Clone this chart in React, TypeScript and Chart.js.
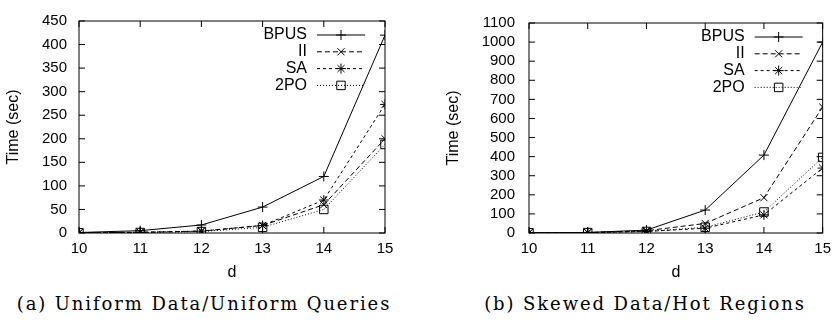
import React, { useEffect, useRef } from 'react';
import { Chart, registerables } from 'chart.js';

Chart.register(...registerables);

// ---- data ----
const dValues = [10, 11, 12, 13, 14, 15];
const seriesNames = ['BPUS', 'II', 'SA', '2PO'];

const uniformBPUS = [1, 5, 17, 55, 120, 420];
const uniformII = [0.5, 1.5, 4, 16, 60, 200];
const uniformSA = [0.5, 1.5, 4, 16, 70, 273];
const uniform2PO = [0.5, 1, 3, 12, 50, 188];

const skewedBPUS = [1, 3, 15, 120, 408, 1000];
const skewedII = [1, 2, 12, 50, 185, 660];
const skewedSA = [1, 2, 8, 25, 95, 340];
const skewed2PO = [1, 2, 8, 30, 110, 396];

const uniformYMax = 450;
const uniformYStep = 50;
const skewedYMax = 1100;
const skewedYStep = 100;

const captionA = '(a) Uniform Data/Uniform Queries';
const captionB = '(b) Skewed Data/Hot Regions';
const xTitle = 'd';
const yTitle = 'Time (sec)';

// ---- styles ----
const seriesStyles = [
  { pointStyle: 'cross', dash: [] as number[], radius: 5 },
  { pointStyle: 'crossRot', dash: [5, 3], radius: 5 },
  { pointStyle: 'star', dash: [3, 3], radius: 5 },
  { pointStyle: 'rect', dash: [1, 2], radius: 6 },
];

const SANS = "'Liberation Sans', Arimo, Arial, Helvetica, sans-serif";
Chart.defaults.font.family = SANS;
Chart.defaults.color = '#000';

function drawMarker(ctx: CanvasRenderingContext2D, style: string, r: number, x: number, y: number) {
  ctx.beginPath();
  if (style === 'cross') {
    ctx.moveTo(x - r, y); ctx.lineTo(x + r, y);
    ctx.moveTo(x, y - r); ctx.lineTo(x, y + r);
  } else if (style === 'crossRot') {
    const o = r * Math.SQRT1_2;
    ctx.moveTo(x - o, y - o); ctx.lineTo(x + o, y + o);
    ctx.moveTo(x - o, y + o); ctx.lineTo(x + o, y - o);
  } else if (style === 'star') {
    const o = r * Math.SQRT1_2;
    ctx.moveTo(x - r, y); ctx.lineTo(x + r, y);
    ctx.moveTo(x, y - r); ctx.lineTo(x, y + r);
    ctx.moveTo(x - o, y - o); ctx.lineTo(x + o, y + o);
    ctx.moveTo(x - o, y + o); ctx.lineTo(x + o, y - o);
  } else {
    const s = r * Math.SQRT1_2;
    ctx.rect(x - s, y - s, 2 * s, 2 * s);
  }
  ctx.stroke();
}

const gnuplotFrame = {
  id: 'gnuplotFrame',
  afterDatasetsDraw(chart: any) {
    const { ctx, chartArea, scales } = chart;
    const { left, right, top, bottom } = chartArea;
    ctx.save();
    ctx.strokeStyle = '#000';
    ctx.lineWidth = 1;
    ctx.setLineDash([]);
    ctx.strokeRect(left, top, right - left, bottom - top);
    const tl = 6;
    ctx.beginPath();
    scales.x.ticks.forEach((t: any) => {
      const px = scales.x.getPixelForValue(t.value);
      ctx.moveTo(px, bottom); ctx.lineTo(px, bottom - tl);
      ctx.moveTo(px, top); ctx.lineTo(px, top + tl);
    });
    scales.y.ticks.forEach((t: any) => {
      const py = scales.y.getPixelForValue(t.value);
      ctx.moveTo(left, py); ctx.lineTo(left + tl, py);
      ctx.moveTo(right, py); ctx.lineTo(right - tl, py);
    });
    ctx.stroke();

    // legend (gnuplot style: text, then line sample with marker)
    const lineEnd = right - 20;
    const lineStart = lineEnd - 48;
    const textRight = lineStart - 10;
    chart.data.datasets.forEach((ds: any, i: number) => {
      const y = top + 14 + i * 16.8;
      ctx.font = `16px ${SANS}`;
      ctx.textAlign = 'right';
      ctx.textBaseline = 'middle';
      ctx.fillStyle = '#000';
      ctx.fillText(ds.label, textRight, y);
      ctx.setLineDash(ds.borderDash || []);
      ctx.beginPath();
      ctx.moveTo(lineStart, y);
      ctx.lineTo(lineEnd, y);
      ctx.stroke();
      ctx.setLineDash([]);
      drawMarker(ctx, ds.pointStyle, ds.pointRadius, (lineStart + lineEnd) / 2, y);
    });
    ctx.restore();
  },
};

function buildDatasets(series: number[][]) {
  return series.map((vals, i) => ({
    label: seriesNames[i],
    data: dValues.map((d, j) => ({ x: d, y: vals[j] })),
    borderColor: '#000',
    backgroundColor: 'rgba(0,0,0,0)',
    borderWidth: 1,
    borderDash: seriesStyles[i].dash,
    pointStyle: seriesStyles[i].pointStyle,
    pointRadius: seriesStyles[i].radius,
    pointBorderColor: '#000',
    pointBackgroundColor: 'rgba(0,0,0,0)',
    pointBorderWidth: 1,
    tension: 0,
  }));
}

interface PanelProps {
  series: number[][];
  yMax: number;
  yStep: number;
  yWidth: number;
  padRight: number;
  yTitlePad: number;
  tickPadY: number;
}

function Panel({ series, yMax, yStep, yWidth, padRight, yTitlePad, tickPadY }: PanelProps) {
  const ref = useRef<HTMLCanvasElement>(null);
  useEffect(() => {
    if (!ref.current) return;
    let chart: Chart | null = null;
    let cancelled = false;
    const make = () => {
      if (cancelled || !ref.current) return;
      chart = new Chart(ref.current, {
        type: 'line',
        data: { datasets: buildDatasets(series) as any },
        options: {
          animation: false,
          responsive: true,
          maintainAspectRatio: false,
          layout: { padding: { left: 0, right: padRight, top: 11, bottom: 0 } },
          plugins: { legend: { display: false }, tooltip: { enabled: false } },
          scales: {
            x: {
              type: 'linear',
              min: 10,
              max: 15,
              ticks: { stepSize: 1, padding: 7, autoSkip: false, font: { size: 15, family: SANS }, color: '#000', callback: (v: any) => String(v) },
              grid: { display: false, drawTicks: false },
              border: { display: false },
              title: { display: true, text: xTitle, color: '#000', font: { size: 16, family: SANS }, padding: { top: 0, bottom: 3 } },
              afterFit: (s: any) => { s.height = 52; },
            },
            y: {
              min: 0,
              max: yMax,
              ticks: { stepSize: yStep, padding: tickPadY, autoSkip: false, font: { size: 15, family: SANS }, color: '#000', callback: (v: any) => String(v) },
              grid: { display: false, drawTicks: false },
              border: { display: false },
              title: { display: true, text: yTitle, color: '#000', font: { size: 16, family: SANS }, padding: { top: yTitlePad, bottom: 0 } },
              afterFit: (s: any) => { s.width = yWidth; },
            },
          },
        } as any,
        plugins: [gnuplotFrame],
      });
    };
    const fonts: any = (document as any).fonts;
    if (fonts && fonts.load) {
      Promise.all([fonts.load(`15px 'Liberation Sans'`), fonts.load(`16px 'Liberation Sans'`)]).then(make, make);
    } else {
      make();
    }
    return () => {
      cancelled = true;
      if (chart) chart.destroy();
    };
  }, []);
  return <canvas ref={ref} />;
}

const captionStyle: React.CSSProperties = {
  position: 'absolute',
  top: 293,
  fontFamily: '"DejaVu Serif", "Liberation Serif", serif',
  fontSize: 18,
  lineHeight: '22px',
  letterSpacing: 1.9,
  whiteSpace: 'nowrap',
  color: '#000',
  textAlign: 'center',
  width: 419,
};

export default function App() {
  return (
    <div style={{ position: 'absolute', left: 0, top: 0, width: 838, height: 320, background: '#fff', overflow: 'hidden' }}>
      <div style={{ position: 'absolute', left: 0, top: 0, width: 419, height: 285 }}>
        <Panel series={[uniformBPUS, uniformII, uniformSA, uniform2PO]} yMax={uniformYMax} yStep={uniformYStep} yWidth={79} padRight={34} yTitlePad={4} tickPadY={12} />
      </div>
      <div style={{ position: 'absolute', left: 419, top: 0, width: 419, height: 285 }}>
        <Panel series={[skewedBPUS, skewedII, skewedSA, skewed2PO]} yMax={skewedYMax} yStep={skewedYStep} yWidth={110} padRight={13} yTitlePad={25} tickPadY={14} />
      </div>
      <div style={{ ...captionStyle, left: 204 - 209.5 }}>{captionA}</div>
      <div style={{ ...captionStyle, left: 645 - 209.5 }}>{captionB}</div>
    </div>
  );
}
